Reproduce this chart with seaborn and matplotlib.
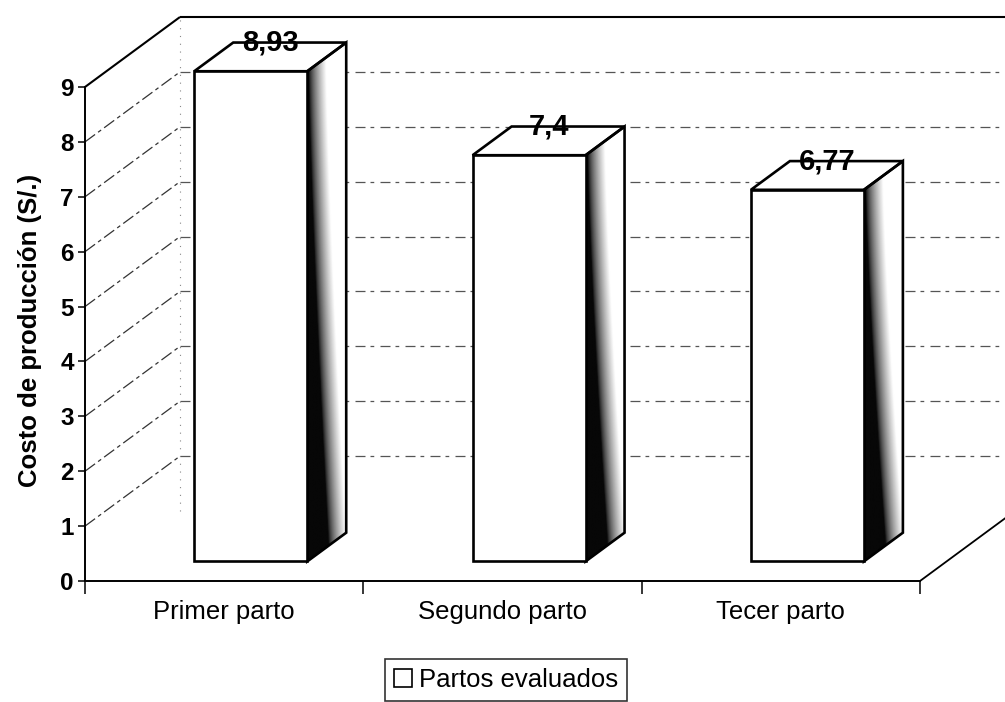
import numpy as np
import matplotlib
matplotlib.use("Agg")
import matplotlib.pyplot as plt
from matplotlib.patches import Polygon, Rectangle
from matplotlib.transforms import Affine2D
import seaborn as sns

# Data
categorias = ["Primer parto", "Segundo parto", "Tecer parto"]
costos = [8.93, 7.4, 6.77]
etiquetas = ["8,93", "7,4", "6,77"]
y_ticks = list(range(0, 10))
serie = "Partos evaluados"
eje_y = "Costo de producción (S/.)"

sns.set_theme(style="white")
plt.rcParams["font.family"] = ["Liberation Sans", "DejaVu Sans"]
plt.rcParams.update({"text.color": "black", "axes.labelcolor": "black",
                     "xtick.color": "black", "ytick.color": "black"})

W, H = 1005, 702
fig = plt.figure(figsize=(W / 100, H / 100), dpi=100)
fig.patch.set_facecolor("white")
ax = fig.add_axes([85 / W, (H - 581) / H, 835 / W, 494 / H])
ax.set_facecolor("none")
ax.set_xlim(-0.5, len(categorias) - 0.5)
ax.set_ylim(0, 9)

# Depth of the 3-D box, in data units (full depth of the walls)
px_x = 835 / 3.0
px_y = 494 / 9.0
DX = 95 / px_x
DY = 70 / px_y
D0, D1 = 0.28, 0.69  # front and back of the bars, as fraction of depth
BAR_W = 0.406


def proj(x, y, d):
    return x + d * DX, y + d * DY


x_lo, x_hi = ax.get_xlim()
line_kw = dict(clip_on=False, solid_capstyle="butt")

# Back wall gridlines and left wall diagonals
for v in y_ticks:
    if v == 0:
        continue
    (bx0, by0), (bx1, by1) = proj(x_lo, v, 1), proj(x_hi, v, 1)
    (lx0, ly0), (lx1, ly1) = proj(x_lo, v, 0), proj(x_lo, v, 1)
    if v == y_ticks[-1]:
        ax.plot([bx0, bx1], [by0, by1], color="black", lw=1.5, zorder=0.6, **line_kw)
        ax.plot([lx0, lx1], [ly0, ly1], color="black", lw=1.5, zorder=0.6, **line_kw)
    else:
        ax.plot([bx0, bx1], [by0, by1], color="#555555", lw=0.9,
                ls=(0, (8, 4, 3, 5)), zorder=0.5, **line_kw)
        ax.plot([lx0, lx1], [ly0, ly1], color="#333333", lw=0.9,
                ls=(0, (10, 3, 3, 3)), zorder=0.5, **line_kw)

# Back wall left edge and floor right edge
(ex0, ey0), (ex1, ey1) = proj(x_lo, 0, 1), proj(x_lo, 9, 1)
ax.plot([ex0, ex1], [ey0, ey1], color="#888888", lw=0.8, ls=(0, (1, 6)),
        zorder=0.5, **line_kw)
(fx0, fy0), (fx1, fy1) = proj(x_hi, 0, 0), proj(x_hi, 0, 1)
ax.plot([fx0, fx1], [fy0, fy1], color="black", lw=1.3, zorder=0.6, **line_kw)

# Front faces of the bars
sns.barplot(x=categorias, y=costos, width=BAR_W, color="white",
            edgecolor="black", linewidth=1.9, saturation=1, ax=ax)
shift = Affine2D().translate(D0 * DX, D0 * DY) + ax.transData
for p in ax.patches:
    p.set_transform(shift)
    p.set_zorder(4)
    p.set_clip_on(False)
    p.set_facecolor("white")

# Top and side faces, derived from each bar
for p, lab in zip(list(ax.patches), etiquetas):
    x0 = p.get_x()
    x1 = x0 + p.get_width()
    h = p.get_height()
    top = [proj(x0, h, D0), proj(x1, h, D0), proj(x1, h, D1), proj(x0, h, D1)]
    side = [proj(x1, 0, D0), proj(x1, h, D0), proj(x1, h, D1), proj(x1, 0, D1)]
    ax.add_patch(Polygon(top, closed=True, facecolor="white", edgecolor="black",
                         lw=1.9, zorder=3, clip_on=False, joinstyle="miter"))
    ax.add_patch(Polygon(side, closed=True, facecolor="none", edgecolor="black",
                         lw=1.9, zorder=3.5, clip_on=False, joinstyle="miter"))

    # shaded side face: black on the near edge, fading to white
    xs0, xs1 = side[0][0], side[2][0]
    ys0, ys1 = side[0][1], side[2][1]
    nx, ny = 60, 400
    gx = np.linspace(xs0, xs1, nx)
    gy = np.linspace(ys0, ys1, ny)
    GX, GY = np.meshgrid(gx, gy)
    U = (GX - xs0) / (xs1 - xs0)
    V = np.clip((GY - ys0 - U * (D1 - D0) * DY) / h, 0, 1)
    a = 0.04 + 0.52 * (1 - V) ** 1.3
    g = np.clip((U - a) / 0.45, 0, 1) ** 0.7
    g = 0.03 + 0.97 * g
    im = ax.imshow(g, cmap="gray", vmin=0, vmax=1, origin="lower",
                   extent=[xs0, xs1, ys0, ys1], aspect="auto",
                   interpolation="bilinear", zorder=2.5)
    im.set_clip_box(fig.bbox)
    im.set_clip_path(Polygon(side, closed=True, transform=ax.transData))

    # value label on the back edge of the top face
    cx = (x0 + x1) / 2 + (D0 + D1) / 2 * DX
    cy = h + D1 * DY
    ax.text(cx, cy, lab, ha="center", va="center", fontsize=21,
            fontweight="bold", color="black", zorder=6, clip_on=False)

ax.set_xlim(x_lo, x_hi)
ax.set_ylim(0, 9)

# Axes styling
for s in ["top", "right"]:
    ax.spines[s].set_visible(False)
for s in ["left", "bottom"]:
    ax.spines[s].set_color("black")
    ax.spines[s].set_linewidth(1.4)
    ax.spines[s].set_zorder(5)

ax.set_yticks(y_ticks)
ax.set_yticklabels([str(t) for t in y_ticks], fontsize=17.5, fontweight="bold",
                   color="black")
ax.tick_params(axis="y", which="major", direction="out", length=5, width=1.1,
               color="black", labelcolor="black", pad=3, left=True)

centros = np.arange(len(categorias))
ax.set_xticks(np.append(centros - 0.5, centros[-1] + 0.5))
ax.set_xticklabels([])
ax.set_xticks(centros, minor=True)
ax.set_xticklabels(categorias, minor=True, fontsize=18.5, color="black")
ax.tick_params(axis="x", which="major", direction="out", length=9, width=1.1,
               color="black", bottom=True)
ax.tick_params(axis="x", which="minor", length=0, pad=14, labelcolor="black")
ax.set_xlabel("")

ax.set_ylabel(eje_y, fontsize=18.5, fontweight="bold", color="black")
ax.yaxis.set_label_coords(-0.052, 0.508)

# Legend
handle = Rectangle((0, 0), 1, 1, facecolor="white", edgecolor="black", lw=1.2)
leg = fig.legend([handle], [serie], loc="upper center",
                 bbox_to_anchor=(506 / W, 1 - 659 / H), frameon=True,
                 fancybox=False, fontsize=18.5, handlelength=0.7,
                 handleheight=0.7, handletextpad=0.3, borderpad=0.35,
                 borderaxespad=0, labelcolor="black")
leg.get_frame().set_edgecolor("black")
leg.get_frame().set_linewidth(1.2)

fig.savefig("out.png", dpi=100, facecolor="white")
